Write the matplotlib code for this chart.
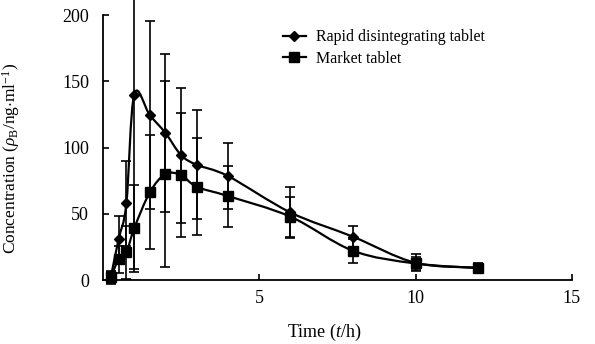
import matplotlib
matplotlib.use('Agg')
import matplotlib.pyplot as plt
from matplotlib.lines import Line2D
from matplotlib.patches import PathPatch
from matplotlib.path import Path
import numpy as np

time_h = [0.25, 0.5, 0.75, 1.0, 1.5, 2.0, 2.5, 3.0, 4.0, 6.0, 8.0, 10.0, 12.0]
rapid_mean = [2, 30.7, 57.9, 140, 124.5, 111, 94.3, 87, 78.5, 51, 32.7, 13, 9.3]
rapid_sd = [4, 17.5, 32, 132, 71, 60, 51, 41, 25, 19, 8, 6.5, 3]
market_mean = [2, 15.6, 20.9, 39, 66.2, 80, 79.2, 70.4, 63.4, 47.8, 22.1, 12.5, 9]
market_sd = [5, 10, 20, 33, 43, 70, 47, 36.5, 23, 15, 9, 5, 4]

x_ticks = [5, 10, 15]
y_ticks = [0, 50, 100, 150, 200]
legend_labels = ['Rapid disintegrating tablet', 'Market tablet']

plt.rcParams['font.family'] = ['Liberation Serif', 'DejaVu Serif']
plt.rcParams['mathtext.fontset'] = 'custom'
plt.rcParams['mathtext.rm'] = 'Liberation Serif'
plt.rcParams['mathtext.it'] = 'Liberation Serif:italic'


def smooth_path(x, y):
    # Excel-style smoothed line through the points (Catmull-Rom as Bezier)
    pts = np.column_stack([x, y]).astype(float)
    n = len(pts)
    verts = [pts[0]]
    codes = [Path.MOVETO]
    for i in range(n - 1):
        p0 = pts[max(i - 1, 0)]
        p1 = pts[i]
        p2 = pts[i + 1]
        p3 = pts[min(i + 2, n - 1)]
        verts += [p1 + (p2 - p0) / 6, p2 - (p3 - p1) / 6, p2]
        codes += [Path.CURVE4] * 3
    return Path(verts, codes)


def main():
    fig = plt.figure(figsize=(5.95, 3.44), dpi=100)
    ax = fig.add_axes([0.173, 0.186, 0.788, 0.770])
    font_size = 13

    for mean, sd, marker, ms in [(rapid_mean, rapid_sd, 'D', 5.5),
                                 (market_mean, market_sd, 's', 6.5)]:
        ax.add_patch(PathPatch(smooth_path(time_h, mean), fill=False,
                               lw=1.6, edgecolor='black', zorder=2))
        cont = ax.errorbar(time_h, mean, yerr=sd, fmt='none', ecolor='black',
                           elinewidth=1.2, capsize=3.5, capthick=1.2, zorder=2)
        for part in cont.lines[1] + cont.lines[2]:
            part.set_clip_on(False)
        ax.plot(time_h, mean, linestyle='none', marker=marker, ms=ms,
                color='black', zorder=3, clip_on=False)

    ax.set_xlim(0, 15)
    ax.set_ylim(0, 200)
    ax.set_xticks(x_ticks)
    ax.set_yticks(y_ticks)
    for s in ['top', 'right']:
        ax.spines[s].set_visible(False)
    for s in ['left', 'bottom']:
        ax.spines[s].set_linewidth(1.3)
    ax.tick_params(axis='x', direction='in', length=4, width=1.2,
                   labelsize=font_size, pad=7)
    ax.tick_params(axis='y', direction='in', length=4, width=1.2,
                   labelsize=font_size, pad=10)

    ax.set_xlabel('Time ($\\it{t}$/h)', size=font_size)
    ax.set_ylabel('Concentration ($\\rho_{\\rm B}$/ng$\\cdot$ml$^{-1}$)',
                  size=12.5)
    ax.xaxis.set_label_coords(0.473, -0.158)
    ax.yaxis.set_label_coords(-0.172, 0.46)

    handles = [Line2D([], [], color='black', lw=1.6, marker='D', ms=5.5),
               Line2D([], [], color='black', lw=1.6, marker='s', ms=6.5)]
    ax.legend(handles, legend_labels, loc='upper left',
              bbox_to_anchor=(0.37, 0.97), frameon=False, fontsize=11.5,
              handlelength=1.45, handletextpad=0.6, labelspacing=0.35,
              borderaxespad=0)

    fig.savefig('out.png', dpi=100)
    plt.close(fig)


if __name__ == '__main__':
    main()
